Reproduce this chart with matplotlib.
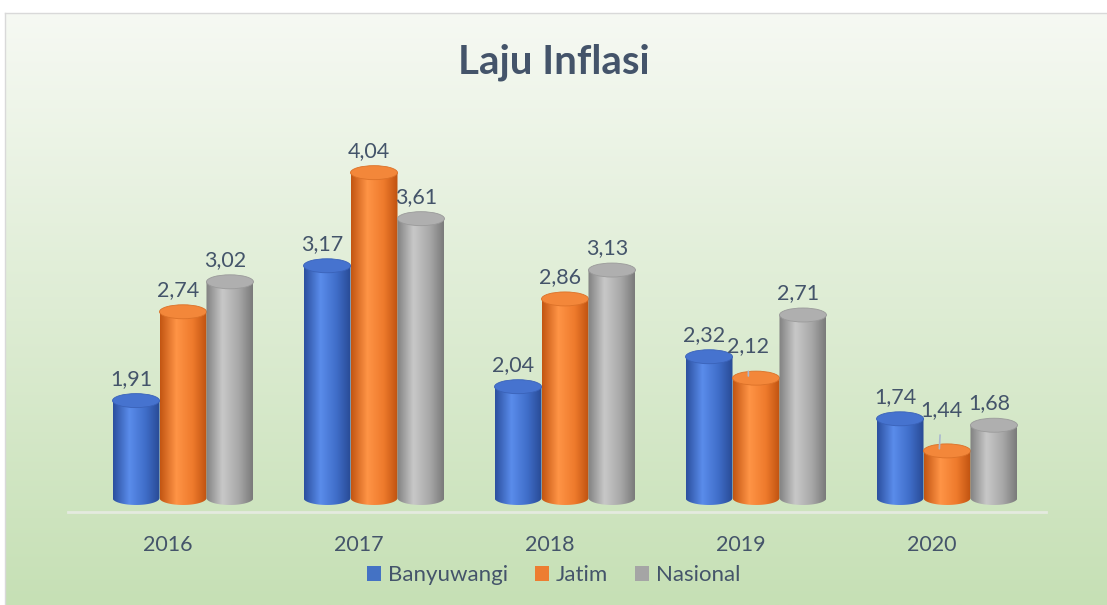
import numpy as np
import matplotlib
matplotlib.use("Agg")
import matplotlib.pyplot as plt
from matplotlib.path import Path
from matplotlib.patches import PathPatch, Ellipse, Patch
from matplotlib.colors import LinearSegmentedColormap
import matplotlib.transforms as mtransforms

# ---------------- data ----------------
years = ["2016", "2017", "2018", "2019", "2020"]
series_names = ["Banyuwangi", "Jatim", "Nasional"]
banyuwangi = [1.91, 3.17, 2.04, 2.32, 1.74]
jatim = [2.74, 4.04, 2.86, 2.12, 1.44]
nasional = [3.02, 3.61, 3.13, 2.71, 1.68]
series_values = [banyuwangi, jatim, nasional]

# ---------------- style ----------------
plt.rcParams['font.family'] = ['Lato', 'DejaVu Sans']
TXT = '#44546A'
W, H = 1107, 605
base_colors = ['#4472C4', '#ED7D31', '#A5A5A5']
grad_stops = [
    ['#2B4F9E', '#5A8CEB', '#3F6DC8', '#284A94'],
    ['#C25512', '#FF9446', '#EE7A2C', '#BF5210'],
    ['#808080', '#C8C8C8', '#A8A8A8', '#7A7A7A'],
]
top_colors = ['#4673CF', '#F3873A', '#AFAFAF']
rim_colors = ['#3A62B8', '#DB7128', '#9A9A9A']

fig = plt.figure(figsize=(W / 100, H / 100), dpi=100)
fig.patch.set_facecolor('white')

# background panel with vertical gradient
bg = fig.add_axes([5 / W, 0, 1 - 5 / W + 0.01, (H - 13) / H])
bg.set_zorder(-10)
bg_cmap = LinearSegmentedColormap.from_list('bg', ['#F6F9F3', '#C6E0B5'])
bg.imshow(np.linspace(0, 1, 256)[:, None], cmap=bg_cmap, aspect='auto',
          extent=[0, 1, 0, 1], origin='upper')
bg.set_xlim(0, 1); bg.set_ylim(0, 1)
bg.set_xticks([]); bg.set_yticks([])
for s in ['right', 'bottom']:
    bg.spines[s].set_visible(False)
for s in ['left', 'top']:
    bg.spines[s].set_color('#D9D9D9')
    bg.spines[s].set_linewidth(1.0)

# main axes
ax_left, ax_right, ax_bottom, ax_top = 87.5, 1042.5, 512, 120
ax = fig.add_axes([ax_left / W, (H - ax_bottom) / H,
                   (ax_right - ax_left) / W, (ax_bottom - ax_top) / H])
ax.patch.set_alpha(0)
for s in ax.spines.values():
    s.set_visible(False)
ax.set_xticks([]); ax.set_yticks([])

ymin, ymax = 0.869, 4.532
base = 1.0
px_per_unit = (ax_bottom - ax_top) / (ymax - ymin)
bar_w = 0.246
cap_h = 14 / px_per_unit

grad = np.linspace(0, 1, 256)[None, :]


def cylinder(xc, top, k, z):
    x0, x1 = xc - bar_w / 2, xc + bar_w / 2
    t = np.linspace(np.pi, 2 * np.pi, 60)
    bx = xc + bar_w / 2 * np.cos(t)
    by = base + cap_h / 2 * np.sin(t)
    verts = [(x0, top)] + list(zip(bx, by)) + [(x1, top), (x0, top)]
    codes = [Path.MOVETO] + [Path.LINETO] * (len(verts) - 2) + [Path.CLOSEPOLY]
    patch = PathPatch(Path(verts, codes), facecolor='none', edgecolor='none', zorder=z)
    ax.add_patch(patch)
    cmap = LinearSegmentedColormap.from_list('c%d' % k, list(zip([0, 0.35, 0.7, 1], grad_stops[k])))
    im = ax.imshow(grad, cmap=cmap, aspect='auto', extent=[x0, x1, base - cap_h, top],
                   zorder=z, interpolation='bilinear')
    im.set_clip_path(patch)
    ax.add_patch(Ellipse((xc, top), bar_w, cap_h, facecolor=top_colors[k],
                         edgecolor=rim_colors[k], lw=0.6, zorder=z + 0.1))


offsets = [-bar_w, 0, bar_w]
z = 2
for i in range(len(years)):
    for k, vals in enumerate(series_values):
        cylinder(i + offsets[k], vals[i], k, z)
        z += 1

ax.set_xlim(-0.5, 4.5)
ax.set_ylim(ymin, ymax)

# axis line
ax.plot([-0.6, 4.52], [ymin + 0.5 / px_per_unit] * 2, color='#E4EADF', lw=2.0,
        zorder=1, clip_on=False)

# data labels
leader = {(3, 1): (0, 30), (4, 1): (2, 39)}
for i in range(len(years)):
    for k, vals in enumerate(series_values):
        xc = i + offsets[k]
        v = vals[i]
        lab = f"{v:.2f}".replace('.', ',')
        if (i, k) in leader:
            dx, dy = leader[(i, k)]
            ax.annotate(lab, xy=(xc - 0.04, v + 0.02), xytext=(dx, dy), textcoords='offset pixels',
                        ha='center', va='center', fontsize=15.5, color=TXT, zorder=100,
                        arrowprops=dict(arrowstyle='-', color='#A9B8CF', lw=1.2,
                                        shrinkA=9, shrinkB=0))
        else:
            ax.annotate(lab, xy=(xc, v), xytext=(-5, 22), textcoords='offset pixels',
                        ha='center', va='center', fontsize=15.5, color=TXT, zorder=100)

# category labels
trans = mtransforms.blended_transform_factory(ax.transData, ax.transAxes)
for i, y in enumerate(years):
    ax.annotate(y, xy=(i, 0), xycoords=trans, xytext=(-15, -33), textcoords='offset pixels',
                ha='center', va='center', fontsize=15.5, color=TXT)

# title
fig.text(0.5, 1 - 62 / H, 'Laju Inflasi', ha='center', va='center', fontsize=29,
         fontweight='bold', color=TXT)

# legend
handles = [Patch(facecolor=c, edgecolor='none') for c in base_colors]
fig.legend(handles, series_names, loc='center', bbox_to_anchor=(0.5, (H - 575) / H),
           ncol=3, frameon=False, fontsize=16, handlelength=0.65, handleheight=0.65,
           handletextpad=0.3, columnspacing=1.2, labelcolor=TXT)

fig.savefig('out.png', dpi=100)
